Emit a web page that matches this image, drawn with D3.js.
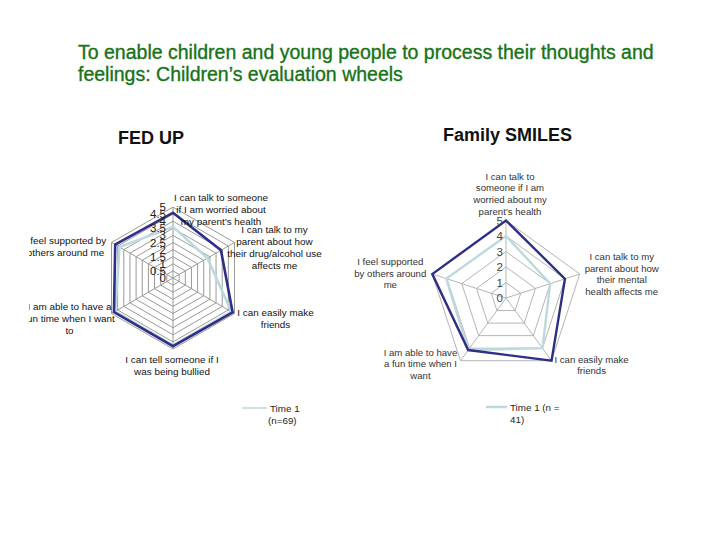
<!DOCTYPE html>
<html>
<head>
<meta charset="utf-8">
<script src="https://cdn.jsdelivr.net/npm/d3@7"></script>
<style>
  body { margin: 0; background: #fff; }
  svg text { font-family: "Liberation Sans", Arial, sans-serif; }
</style>
</head>
<body>
<svg id="chart" width="720" height="540"></svg>
<script>
// ---- data ----
const titleLines = [
  'To enable children and young people to process their thoughts and',
  'feelings: Children\u2019s evaluation wheels'
]

const fedUpAxes = [
  ['I can talk to someone', 'if I am worried about', 'my parent\u2019s health'],
  ['I can talk to my', 'parent about how', 'their drug/alcohol use', 'affects me'],
  ['I can easily make', 'friends'],
  ['I can tell someone if I', 'was being bullied'],
  ['I am able to have a', 'fun time when I want', 'to'],
  ['I feel supported by', 'others around me']
]
const fedUpTime1 = [3.6, 2.8, 4.75, 4.75, 4.7, 4.35]
const fedUpTime2 = [4.6, 3.9, 4.85, 4.8, 4.8, 4.7]
const fedUpTicks = [0, 0.5, 1, 1.5, 2, 2.5, 3, 3.5, 4, 4.5, 5]

const smilesAxes = [
  ['I can talk to', 'someone if I am', 'worried about my', 'parent\u2019s health'],
  ['I can talk to my', 'parent about how', 'their mental', 'health affects me'],
  ['I can easily make', 'friends'],
  ['I am able to have', 'a fun time when I', 'want'],
  ['I feel supported', 'by others around', 'me']
]
const smilesTime1 = [4, 3, 4, 4.15, 4.05]
const smilesTime2 = [5, 4, 5, 4.15, 5]
const smilesTicks = [0, 1, 2, 3, 4, 5]

const darkColor = '#2f2f86'
const lightColor = '#bcdadd'

const svg = d3.select('#chart')

// title
svg.append('g')
  .selectAll('text')
  .data(titleLines)
  .join('text')
  .attr('x', 78)
  .attr('y', (d, i) => 59 + i * 22)
  .attr('fill', '#187318')
  .attr('stroke', '#187318')
  .attr('stroke-width', 0.35)
  .attr('font-size', 19.5)
  .text(d => d)

function radar(opts) {
  const g = svg.append('g')
  const n = opts.axes.length
  const r = d3.scaleLinear().domain([0, 5]).range([0, opts.radius])
  const angle = i => -Math.PI / 2 + i * 2 * Math.PI / n
  const pt = (i, v) => [opts.cx + r(v) * Math.cos(angle(i)), opts.cy + r(v) * Math.sin(angle(i))]

  if (opts.clipX != null) {
    const id = 'clip' + opts.name
    svg.append('clipPath').attr('id', id)
      .append('rect').attr('x', opts.clipX).attr('y', 0).attr('width', 720).attr('height', 540)
    g.attr('clip-path', `url(#${id})`)
  }

  // chart title
  g.append('text')
    .attr('x', opts.titleX).attr('y', opts.titleY)
    .attr('font-size', 18).attr('font-weight', 'bold')
    .attr('fill', '#111')
    .text(opts.title)

  // grid rings
  const ringLine = d3.line()
  g.append('g').selectAll('path')
    .data(opts.ticks.filter(t => t > 0))
    .join('path')
    .attr('d', t => ringLine(d3.range(n).map(i => pt(i, t))) + 'Z')
    .attr('fill', 'none')
    .attr('stroke', opts.gridColor)
    .attr('stroke-width', 1)

  // spokes
  g.append('g').selectAll('line')
    .data(d3.range(n))
    .join('line')
    .attr('x1', opts.cx).attr('y1', opts.cy)
    .attr('x2', i => pt(i, 5)[0]).attr('y2', i => pt(i, 5)[1])
    .attr('stroke', opts.gridColor)
    .attr('stroke-width', 1)

  // series
  const seriesLine = d3.line()
  ;[[opts.time1, lightColor], [opts.time2, darkColor]].forEach(([vals, color]) => {
    g.append('path')
      .attr('d', seriesLine(vals.map((v, i) => pt(i, v))) + 'Z')
      .attr('fill', 'none')
      .attr('stroke', color)
      .attr('stroke-width', opts.lineWidth)
      .attr('stroke-linejoin', 'miter')
  })

  // tick labels on the vertical axis
  g.append('g').selectAll('text')
    .data(opts.ticks)
    .join('text')
    .attr('x', opts.cx - opts.tickGap)
    .attr('y', t => opts.cy - r(t) + 4)
    .attr('text-anchor', 'end')
    .attr('font-size', 11.5)
    .attr('fill', opts.tickColor)
    .text(t => t)

  // axis labels
  opts.axes.forEach((lines, i) => {
    const [vx, vy] = pt(i, 5)
    const [dx, dy] = opts.labelOffsets[i]
    g.append('text')
      .attr('text-anchor', 'middle')
      .attr('font-size', opts.labelSize)
      .attr('fill', opts.labelColor)
      .selectAll('tspan')
      .data(lines)
      .join('tspan')
      .attr('x', vx + dx)
      .attr('y', (d, j) => vy + dy + j * opts.lineGap)
      .text(d => d)
  })

  // legend (only first series shown)
  const lg = g.append('g')
  lg.append('line')
    .attr('x1', opts.legendX).attr('x2', opts.legendX + opts.legendLen)
    .attr('y1', opts.legendY).attr('y2', opts.legendY)
    .attr('stroke', lightColor).attr('stroke-width', opts.legendWidth)
  lg.append('text')
    .attr('font-size', 9.8).attr('fill', '#222')
    .selectAll('tspan')
    .data(opts.legendLines)
    .join('tspan')
    .attr('x', (d, j) => opts.legendX + opts.legendLen + 3 + (j ? opts.legendIndent : 0))
    .attr('y', (d, j) => opts.legendY + 4 + j * 12)
    .text(d => d)
}

radar({
  name: 'fedup',
  title: 'FED UP',
  titleX: 118, titleY: 144,
  axes: fedUpAxes, time1: fedUpTime1, time2: fedUpTime2, ticks: fedUpTicks,
  cx: 173, cy: 278, radius: 71,
  clipX: 29,
  gridColor: '#9a9a9a', tickColor: '#222', tickGap: 7,
  lineWidth: 2.6,
  labelSize: 9.9, labelColor: '#111', lineGap: 12,
  labelOffsets: [[48, -6], [40, -10], [41, 2], [-1, 14], [-42, -4], [-46, 1]],
  legendX: 242, legendY: 408, legendLen: 25, legendWidth: 1.5,
  legendLines: ['Time 1', '(n=69)'], legendIndent: -2
})

radar({
  name: 'smiles',
  title: 'Family SMILES',
  titleX: 443, titleY: 141,
  axes: smilesAxes, time1: smilesTime1, time2: smilesTime2, ticks: smilesTicks,
  cx: 506, cy: 298, radius: 77.5,
  clipX: null,
  gridColor: '#b5b5b5', tickColor: '#444', tickGap: 3,
  lineWidth: 2.4,
  labelSize: 9.6, labelColor: '#333', lineGap: 11.7,
  labelOffsets: [[4, -41], [42, -14], [40, 2], [-40, -5], [-42, -9]],
  legendX: 486, legendY: 407, legendLen: 21, legendWidth: 2.5,
  legendLines: ['Time 1 (n =', '41)'], legendIndent: 0
})
</script>
</body>
</html>
